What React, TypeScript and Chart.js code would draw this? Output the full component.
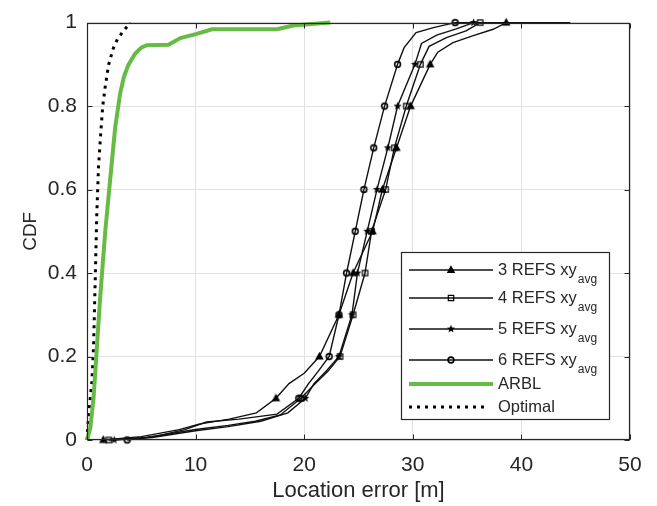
import { useEffect, useRef } from "react";
import { Chart, registerables } from "chart.js";

Chart.register(...registerables);

// ---------- data ----------
const xTickValues = [0, 10, 20, 30, 40, 50];
const yTickValues = [0, 0.2, 0.4, 0.6, 0.8, 1];

const legendLabels = ["3 REFS xy", "4 REFS xy", "5 REFS xy", "6 REFS xy", "ARBL", "Optimal"];
const legendSub = "avg";

const refs3X = [1.5, 5, 8.5, 10.3, 13.1, 15.6, 17.4, 18.6, 20.0, 21.4, 23.2, 24.5, 26.3, 27.2, 28.5, 29.8, 31.6, 32.3, 33.7, 35.5, 37.4, 38.6, 44.5];
const refs3Y = [0, 0.008, 0.025, 0.038, 0.05, 0.065, 0.1, 0.135, 0.16, 0.2, 0.3, 0.4, 0.5, 0.6, 0.7, 0.8, 0.9, 0.929, 0.952, 0.968, 0.984, 1, 1];

const refs4X = [2.0, 5.5, 10, 13, 15.5, 17.8, 19.7, 21.0, 22.2, 23.3, 24.5, 25.6, 26.2, 27.5, 28.3, 29.4, 30.7, 31.5, 33.1, 34.9, 36.2, 42.0];
const refs4Y = [0, 0.006, 0.025, 0.035, 0.045, 0.06, 0.1, 0.135, 0.165, 0.2, 0.3, 0.4, 0.5, 0.6, 0.7, 0.8, 0.9, 0.943, 0.964, 0.98, 1, 1];

const refs5X = [2.5, 6, 10, 13, 16, 18.5, 20.1, 20.9, 22.1, 23.2, 24.4, 24.9, 25.8, 26.7, 27.7, 28.6, 30.2, 30.8, 32.2, 34.0, 35.6, 41.0];
const refs5Y = [0, 0.006, 0.022, 0.032, 0.045, 0.065, 0.1, 0.135, 0.167, 0.2, 0.3, 0.4, 0.5, 0.6, 0.7, 0.8, 0.9, 0.95, 0.97, 0.985, 1, 1];

const refs6X = [3.7, 6.5, 9, 11, 14, 17.5, 19.5, 20.4, 21.3, 22.3, 23.2, 23.9, 24.7, 25.5, 26.4, 27.4, 28.6, 29.2, 30.3, 31.9, 33.9, 39.0];
const refs6Y = [0, 0.01, 0.025, 0.043, 0.05, 0.062, 0.1, 0.135, 0.165, 0.2, 0.3, 0.4, 0.5, 0.6, 0.7, 0.8, 0.9, 0.94, 0.976, 0.988, 1, 1];

const arblX = [0, 0.3, 0.6, 0.9, 1.2, 1.68, 2.1, 2.6, 3.05, 3.4, 3.8, 4.44, 5.0, 5.5, 7.5, 8.6, 10.1, 11.5, 17.5, 19.0, 22.4];
const arblY = [0, 0.028, 0.1, 0.218, 0.337, 0.5, 0.615, 0.75, 0.83, 0.87, 0.898, 0.926, 0.94, 0.946, 0.947, 0.963, 0.973, 0.984, 0.984, 0.993, 1.0];

const optimalX = [0, 0.15, 0.45, 0.6, 0.75, 0.9, 1.06, 1.25, 1.45, 1.67, 1.98, 2.4, 2.8, 3.35, 4.0];
const optimalY = [0, 0.06, 0.14, 0.22, 0.377, 0.54, 0.655, 0.73, 0.8, 0.845, 0.898, 0.937, 0.96, 0.98, 1.0];

// ---------- styling ----------
const AXIS_COLOR = "#262626";
const GRID_COLOR = "#e2e2e2";
const GREEN = "#66bb44";
const FONT = "'Liberation Sans', Arial, Helvetica, sans-serif";

type MarkerKind = "triangle" | "square" | "star" | "circle";

function drawMarker(ctx: CanvasRenderingContext2D, kind: MarkerKind, x: number, y: number) {
  ctx.save();
  ctx.strokeStyle = "#000";
  ctx.fillStyle = "#000";
  ctx.lineWidth = 1.2;
  ctx.beginPath();
  if (kind === "triangle") {
    const r = 3.4;
    ctx.moveTo(x, y - r);
    ctx.lineTo(x + r * 0.95, y + r * 0.7);
    ctx.lineTo(x - r * 0.95, y + r * 0.7);
    ctx.closePath();
    ctx.fill();
    ctx.stroke();
  } else if (kind === "square") {
    ctx.rect(x - 2.7, y - 2.7, 5.4, 5.4);
    ctx.stroke();
  } else if (kind === "star") {
    const ro = 4.3, ri = 1.8;
    for (let k = 0; k < 10; k++) {
      const r = k % 2 === 0 ? ro : ri;
      const a = -Math.PI / 2 + (k * Math.PI) / 5;
      const px = x + r * Math.cos(a);
      const py = y + r * Math.sin(a);
      if (k === 0) ctx.moveTo(px, py);
      else ctx.lineTo(px, py);
    }
    ctx.closePath();
    ctx.fill();
  } else {
    ctx.lineWidth = 1.6;
    ctx.arc(x, y, 2.9, 0, Math.PI * 2);
    ctx.stroke();
  }
  ctx.restore();
}

function makeMarkerCanvas(kind: MarkerKind): HTMLCanvasElement {
  const c = document.createElement("canvas");
  c.width = 13;
  c.height = 13;
  const ctx = c.getContext("2d")!;
  drawMarker(ctx, kind, 6.5, 6.5);
  return c;
}

function isMarker(ys: number[], i: number) {
  const v = ys[i] * 10;
  if (Math.abs(v - Math.round(v)) > 1e-6) return false;
  if (i > 0 && ys[i - 1] === ys[i]) return false;
  return true;
}

function toPoints(xs: number[], ys: number[]) {
  return xs.map((x, i) => ({ x, y: ys[i] }));
}

export default function App() {
  const canvasRef = useRef<HTMLCanvasElement | null>(null);

  useEffect(() => {
    document.body.style.margin = "0";
    const canvas = canvasRef.current;
    if (!canvas) return;

    const markerKinds: MarkerKind[] = ["triangle", "square", "star", "circle"];
    const markerCanvases = markerKinds.map(makeMarkerCanvas);
    const blackSeries = [
      [refs3X, refs3Y],
      [refs4X, refs4Y],
      [refs5X, refs5Y],
      [refs6X, refs6Y],
    ];

    const blackDatasets = blackSeries.map(([xs, ys], k) => ({
      label: legendLabels[k],
      data: toPoints(xs, ys),
      borderColor: "#111",
      borderWidth: 1.4,
      tension: 0,
      clip: false as const,
      pointStyle: (c: any) => (isMarker(ys, c.dataIndex) ? markerCanvases[k] : "circle"),
      pointRadius: (c: any) => (isMarker(ys, c.dataIndex) ? 4 : 0),
      pointHoverRadius: 0,
    }));

    const chart = new Chart(canvas, {
      type: "line",
      data: {
        datasets: [
          ...blackDatasets,
          {
            label: legendLabels[4],
            data: toPoints(arblX, arblY),
            borderColor: GREEN,
            borderWidth: 4,
            tension: 0,
            clip: false as const,
            pointRadius: 0,
          },
          {
            label: legendLabels[5],
            data: toPoints(optimalX, optimalY),
            borderColor: "#000",
            borderWidth: 3,
            borderDash: [3, 5],
            tension: 0,
            clip: false as const,
            pointRadius: 0,
          },
        ],
      },
      options: {
        responsive: false,
        animation: false,
        events: [],
        layout: { padding: { top: 20, right: 27, left: 0, bottom: 0 } },
        plugins: {
          legend: { display: false },
          tooltip: { enabled: false },
        },
        scales: {
          x: {
            type: "linear",
            min: 0,
            max: 50,
            afterFit: (s: any) => {
              s.height = 66;
            },
            afterBuildTicks: (s: any) => {
              s.ticks = xTickValues.map((v) => ({ value: v }));
            },
            grid: { color: GRID_COLOR, lineWidth: 1, drawTicks: false },
            border: { display: false },
            ticks: {
              color: AXIS_COLOR,
              font: { family: FONT, size: 21 },
              padding: 13,
              maxRotation: 0,
            },
            title: {
              display: true,
              text: "Location error [m]",
              color: AXIS_COLOR,
              font: { family: FONT, size: 22 },
              padding: { top: 0, bottom: 2 },
            },
          },
          y: {
            type: "linear",
            min: 0,
            max: 1,
            afterFit: (s: any) => {
              s.width = 87;
            },
            afterBuildTicks: (s: any) => {
              s.ticks = yTickValues.map((v) => ({ value: v }));
            },
            grid: { color: GRID_COLOR, lineWidth: 1, drawTicks: false },
            border: { display: false },
            ticks: {
              color: AXIS_COLOR,
              font: { family: FONT, size: 21 },
              padding: 10,
              callback: (v: any) => String(Number(v)),
            },
            title: {
              display: true,
              text: "CDF",
              color: AXIS_COLOR,
              font: { family: FONT, size: 19 },
              padding: { top: 19, bottom: 0 },
            },
          },
        },
      },
      plugins: [
        {
          id: "frameAndLegend",
          afterDraw: (ch: any) => {
            const ctx: CanvasRenderingContext2D = ch.ctx;
            const a = ch.chartArea;
            const xs = ch.scales.x;
            const ys = ch.scales.y;
            ctx.save();
            // frame
            ctx.strokeStyle = AXIS_COLOR;
            ctx.lineWidth = 1.2;
            const L = Math.round(a.left) + 0.5;
            const R = Math.round(a.right) - 0.5;
            const T = Math.round(a.top) + 0.5;
            const B = Math.round(a.bottom) - 0.5;
            ctx.strokeRect(L, T, R - L, B - T);
            // inward ticks
            const tl = 5;
            ctx.lineWidth = 1;
            ctx.beginPath();
            xTickValues.forEach((v) => {
              const px = Math.round(xs.getPixelForValue(v)) + 0.5;
              ctx.moveTo(px, B);
              ctx.lineTo(px, B - tl);
              ctx.moveTo(px, T);
              ctx.lineTo(px, T + tl);
            });
            yTickValues.forEach((v) => {
              const py = Math.round(ys.getPixelForValue(v)) + 0.5;
              ctx.moveTo(L, py);
              ctx.lineTo(L + tl, py);
              ctx.moveTo(R, py);
              ctx.lineTo(R - tl, py);
            });
            ctx.stroke();

            // legend
            const bx = 401.5, by = 252.5, bw = 208, bh = 167;
            ctx.fillStyle = "#ffffff";
            ctx.fillRect(bx, by, bw, bh);
            ctx.strokeStyle = AXIS_COLOR;
            ctx.lineWidth = 1.2;
            ctx.strokeRect(bx, by, bw, bh);

            const rowY = [270, 298, 329, 360, 384, 407];
            const lx0 = 409, lx1 = 493, mx = 451, tx = 498;
            for (let k = 0; k < 6; k++) {
              const y = rowY[k];
              ctx.save();
              ctx.beginPath();
              if (k < 4) {
                ctx.strokeStyle = "#111";
                ctx.lineWidth = 1.4;
              } else if (k === 4) {
                ctx.strokeStyle = GREEN;
                ctx.lineWidth = 4;
              } else {
                ctx.strokeStyle = "#000";
                ctx.lineWidth = 3;
                ctx.setLineDash([3, 5]);
              }
              ctx.moveTo(lx0, y);
              ctx.lineTo(k === 5 ? 488 : lx1, y);
              ctx.stroke();
              ctx.restore();
              if (k < 4) drawMarker(ctx, markerKinds[k], mx, y);

              ctx.fillStyle = AXIS_COLOR;
              ctx.textAlign = "left";
              ctx.textBaseline = "alphabetic";
              ctx.font = `16.5px ${FONT}`;
              ctx.fillText(legendLabels[k], tx, y + 5);
              if (k < 4) {
                const w = ctx.measureText(legendLabels[k]).width;
                ctx.font = `12px ${FONT}`;
                ctx.fillText(legendSub, tx + w + 1, y + 12.5);
              }
            }
            ctx.restore();
          },
        },
      ],
    });

    return () => {
      chart.destroy();
    };
  }, []);

  return (
    <div style={{ width: 657, height: 506 }}>
      <canvas ref={canvasRef} width={657} height={506} style={{ display: "block" }} />
    </div>
  );
}
